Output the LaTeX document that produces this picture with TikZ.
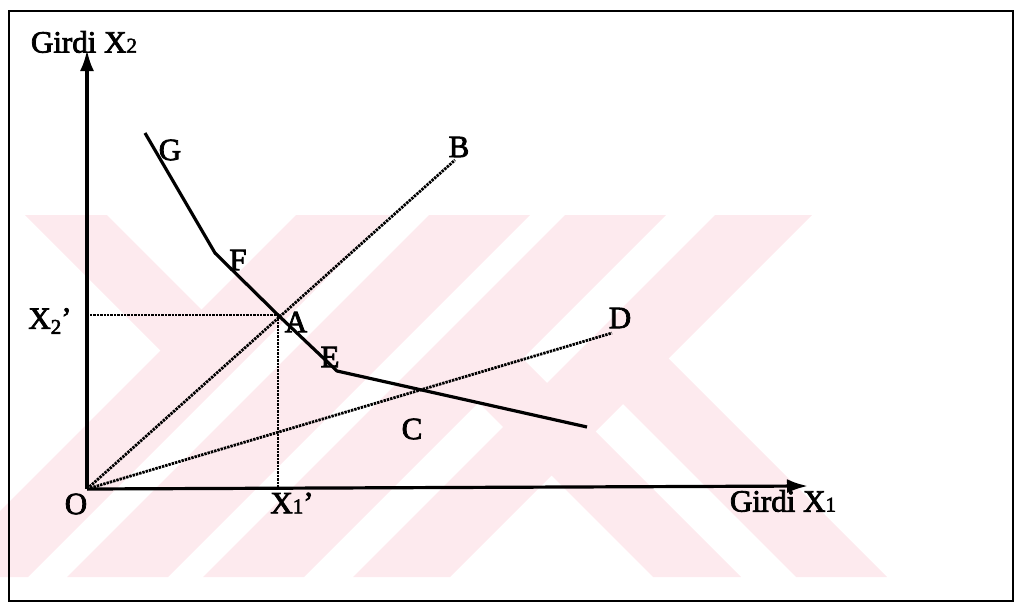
\documentclass[tikz,border=0pt]{standalone}
\usepackage{fontspec}
\setmainfont{Liberation Serif}
\newfontfamily\labfont{Liberation Serif}[FakeBold=2.5]
\usetikzlibrary{arrows.meta}
\definecolor{wmpink}{RGB}{253,234,238}
\tikzset{
  axis/.style={line width=3.2pt,-{Latex[length=21pt,width=14pt]}},
  curve/.style={line width=3.2pt,line join=round},
  guide/.style={line width=2.8pt,dash pattern=on 2.4pt off 1pt},
  lab/.style={inner sep=0pt,font=\labfont\fontsize{31}{36}\selectfont},
  wm/.style={fill=wmpink,draw=none}
}
\newcommand{\smalldig}[1]{{\fontsize{21}{21}\selectfont #1}}
\begin{document}
\begin{tikzpicture}[x=1pt,y=-1pt]
\useasboundingbox (0,0) rectangle (1019,605);
% watermark
\fill[wm] (296,215) -- (390,215) -- (28,577) -- (-66,577) -- cycle;
\fill[wm] (429,215) -- (530,215) -- (168,577) -- (67,577) -- cycle;
\fill[wm] (565,215) -- (666,215) -- (304,577) -- (203,577) -- cycle;
\fill[wm] (715,215) -- (812,215) -- (450,577) -- (353,577) -- cycle;
\fill[wm] (431,355) -- (519,355) -- (741,577) -- (653,577) -- cycle;
\fill[wm] (576,357) -- (667,357) -- (887,577) -- (796,577) -- cycle;
\fill[wm] (25,215) -- (107,215) -- (245,353) -- (163,353) -- cycle;
\fill[white] (-70,200) rectangle (0,600);
% frame
\draw[line width=2.2pt] (9,11) rectangle (1013,601);
% coordinates
\coordinate (O) at (87,489);
\coordinate (ytip) at (87,50);
\coordinate (xtip) at (808,486);
\coordinate (Gs) at (145,133);
\coordinate (F) at (215,253);
\coordinate (A) at (278,315);
\coordinate (E) at (337,371);
\coordinate (Ce) at (587,427);
\coordinate (Be) at (455,160);
\coordinate (De) at (612,333);
\coordinate (X2s) at (90,315);
\coordinate (X1e) at (278,488);
% guides
\draw[guide] (O) -- (Be);
\draw[guide] (O) -- (De);
\draw[guide] (X2s) -- (A);
\draw[guide] (A) -- (X1e);
% axes
\draw[axis] (O) -- (ytip);
\draw[axis] (O) -- (xtip);
% isoquant
\draw[curve] (Gs) -- (F) -- (A) -- (E) -- (Ce);
% labels
\node[lab] (lGX2) at (84,42) {Girdi X\smalldig{2}};
\node[lab] (lG) at (170,150) {G};
\node[lab] (lF) at (238,260) {F};
\node[lab] (lA) at (296,322) {A};
\node[lab] (lE) at (330,357) {E};
\node[lab] (lB) at (459,147) {B};
\node[lab] (lD) at (620,318) {D};
\node[lab] (lC) at (412,429) {C};
\node[lab] (lX2) at (50,321) {X\raisebox{-5pt}{\smalldig{2}}’};
\node[lab] (lX1) at (292,503) {X\smalldig{1}’};
\node[lab] (lO) at (76,504) {O};
\node[lab] (lGX1) at (783,501) {Girdi X\smalldig{1}};
\end{tikzpicture}
\end{document}
